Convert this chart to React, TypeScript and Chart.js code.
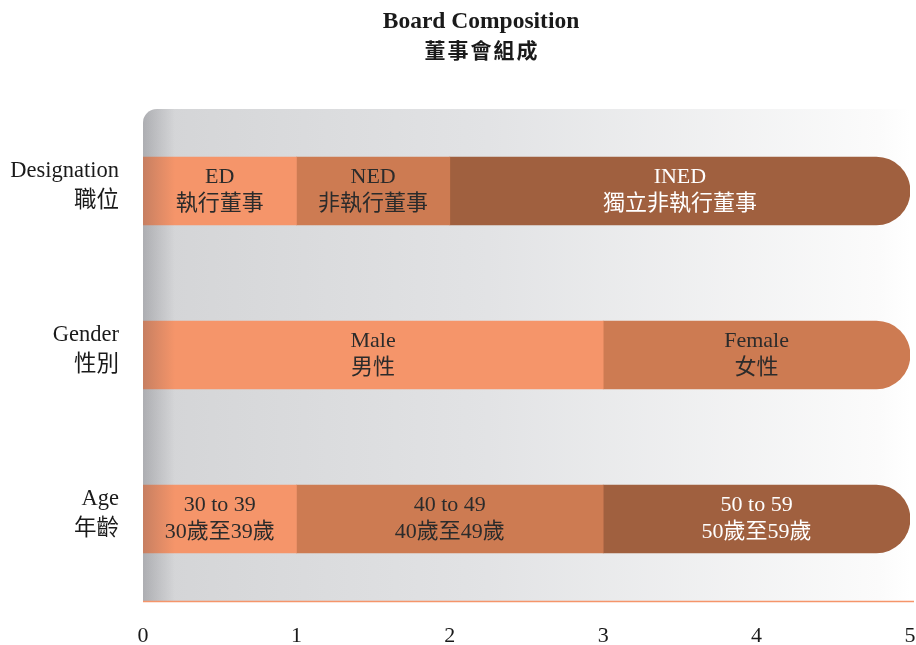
import React, { useEffect, useRef } from "react";
import { Chart, registerables } from "chart.js";

Chart.register(...registerables);

const categories: string[][] = [
  ["Designation", "職位"],
  ["Gender", "性別"],
  ["Age", "年齡"],
];
const segment1: (number | null)[] = [1, 3, 1];
const segment2: (number | null)[] = [1, 2, 2];
const segment3: (number | null)[] = [3, null, 2];
const segment1Labels: string[][] = [["ED", "執行董事"], ["Male", "男性"], ["30 to 39", "30歲至39歲"]];
const segment2Labels: string[][] = [["NED", "非執行董事"], ["Female", "女性"], ["40 to 49", "40歲至49歲"]];
const segment3Labels: string[][] = [["INED", "獨立非執行董事"], [], ["50 to 59", "50歲至59歲"]];
const xTicks: number[] = [0, 1, 2, 3, 4, 5];
const titleLines: string[] = ["Board Composition", "董事會組成"];

const FONT = "'Liberation Serif', 'Noto Sans CJK TC', serif";
const COLORS = ["#F5956A", "#CD7B52", "#A0603F"];
const TEXT_COLORS = ["#2b2b2b", "#2b2b2b", "#ffffff"];

const bgPlugin = {
  id: "bgPlugin",
  beforeDatasetsDraw(chart: any) {
    const { ctx, chartArea: a } = chart;
    ctx.save();
    const g = ctx.createLinearGradient(a.left, 0, a.right, 0);
    g.addColorStop(0, "#d3d4d6");
    g.addColorStop(0.45, "#e2e3e5");
    g.addColorStop(0.96, "#fbfbfb");
    g.addColorStop(1, "#ffffff");
    ctx.fillStyle = g;
    ctx.beginPath();
    ctx.roundRect(a.left, a.top, a.right - a.left, a.bottom - a.top, [14, 0, 0, 0]);
    ctx.fill();
    ctx.restore();
  },
  afterDatasetsDraw(chart: any) {
    const { ctx, chartArea: a } = chart;
    ctx.save();
    ctx.beginPath();
    ctx.roundRect(a.left, a.top, a.right - a.left, a.bottom - a.top, [14, 0, 0, 0]);
    ctx.clip();
    const s = ctx.createLinearGradient(a.left, 0, a.left + 32, 0);
    s.addColorStop(0, "rgba(60,60,70,0.25)");
    s.addColorStop(0.5, "rgba(60,60,70,0.12)");
    s.addColorStop(1, "rgba(60,60,70,0)");
    ctx.fillStyle = s;
    ctx.fillRect(a.left, a.top, 32, a.bottom - a.top);
    ctx.restore();

    ctx.save();
    ctx.strokeStyle = "#F5956A";
    ctx.lineWidth = 1.5;
    ctx.beginPath();
    ctx.moveTo(a.left, a.bottom + 0.5);
    ctx.lineTo(a.right + 4, a.bottom + 0.5);
    ctx.stroke();
    ctx.restore();

    const labelSets = [segment1Labels, segment2Labels, segment3Labels];
    ctx.save();
    ctx.font = `22px ${FONT}`;
    ctx.textAlign = "center";
    ctx.textBaseline = "middle";
    chart.data.datasets.forEach((ds: any, di: number) => {
      const meta = chart.getDatasetMeta(di);
      meta.data.forEach((bar: any, i: number) => {
        const lines = labelSets[di][i];
        if (!lines || !lines.length || ds.data[i] == null) return;
        const { x, base, y } = bar.getProps(["x", "base", "y"], true);
        const cx = (x + base) / 2;
        ctx.fillStyle = TEXT_COLORS[di];
        ctx.fillText(lines[0], cx, y - 14);
        ctx.fillText(lines[1], cx, y + 13);
      });
    });
    ctx.restore();
  },
  afterDraw(chart: any) {
    const { ctx } = chart;
    ctx.save();
    ctx.fillStyle = "#1a1a1a";
    ctx.textAlign = "center";
    ctx.textBaseline = "middle";
    ctx.font = `bold 23.5px ${FONT}`;
    ctx.fillText(titleLines[0], 481, 22);
    ctx.font = `bold 21px ${FONT}`;
    (ctx as any).letterSpacing = "2px";
    ctx.fillText(titleLines[1], 482, 53);
    ctx.restore();
  },
};

export default function App() {
  const ref = useRef<HTMLCanvasElement | null>(null);
  useEffect(() => {
    if (!ref.current) return;
    const segs = [segment1, segment2, segment3];
    const chart = new Chart(ref.current, {
      type: "bar",
      data: {
        labels: categories as any,
        datasets: segs.map((d, i) => ({
          label: `seg${i + 1}`,
          data: d as any,
          backgroundColor: COLORS[i],
          borderWidth: 0,
          borderRadius: 34,
          barThickness: 68,
        })),
      },
      options: {
        indexAxis: "y",
        animation: false,
        responsive: true,
        maintainAspectRatio: false,
        layout: { padding: { top: 109, right: 6, left: 0, bottom: 0 } },
        plugins: {
          legend: { display: false },
          tooltip: { enabled: false },
          title: { display: false },
        },
        scales: {
          x: {
            stacked: true,
            min: 0,
            max: 5,
            afterBuildTicks: (scale: any) => {
              scale.ticks = xTicks.map((v) => ({ value: v }));
            },
            grid: { display: false, drawTicks: false },
            border: { display: false },
            ticks: {
              padding: 22,
              color: "#1a1a1a",
              font: { family: FONT, size: 22 },
            },
            afterFit: (scale: any) => {
              scale.height = 44;
              scale.paddingLeft = 0;
              scale.paddingRight = 0;
            },
          },
          y: {
            stacked: true,
            grid: { display: false, drawTicks: false },
            border: { display: false },
            ticks: {
              padding: 24,
              labelOffset: -5,
              color: "#1a1a1a",
              font: { family: FONT, size: 22.5, lineHeight: 1.3 },
            },
            afterFit: (scale: any) => {
              scale.width = 143;
              scale.paddingTop = 0;
              scale.paddingBottom = 0;
            },
          },
        },
      },
      plugins: [bgPlugin],
    });
    return () => chart.destroy();
  }, []);

  return (
    <div style={{ position: "fixed", left: 0, top: 0, width: 916, height: 645, background: "#fff" }}>
      <canvas ref={ref} />
    </div>
  );
}
